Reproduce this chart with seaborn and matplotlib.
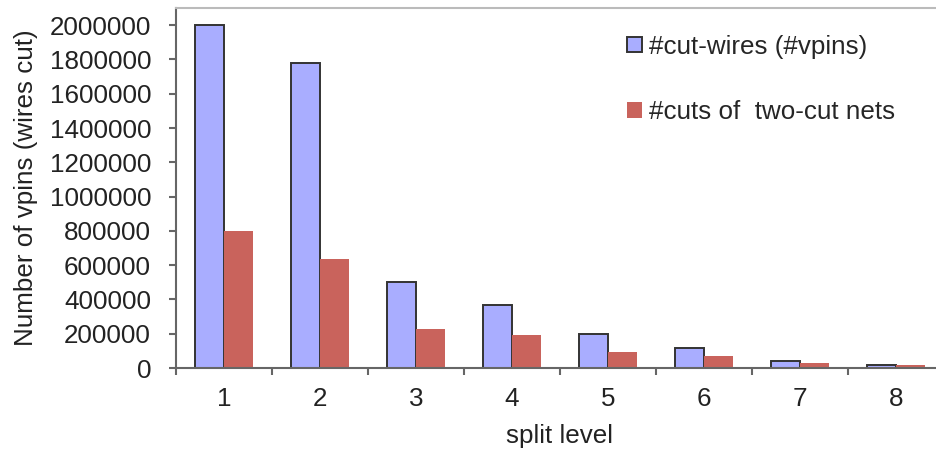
import matplotlib
matplotlib.use("Agg")
import matplotlib.pyplot as plt
from matplotlib.patches import Patch
from matplotlib.ticker import FixedLocator, FuncFormatter
import seaborn as sns
import pandas as pd

split_levels = ["1", "2", "3", "4", "5", "6", "7", "8"]
cut_wires = [2000000, 1780000, 500000, 365000, 200000, 115000, 38000, 20000]
two_cut = [800000, 635000, 225000, 190000, 95000, 70000, 27000, 15000]
series_names = ["#cut-wires (#vpins)", "#cuts of  two-cut nets"]
colors = ["#A9ADFF", "#C9635C"]

df = pd.DataFrame({
    "level": split_levels * 2,
    "value": cut_wires + two_cut,
    "series": [series_names[0]] * len(split_levels) + [series_names[1]] * len(split_levels),
})

sns.set_theme(style="white")
plt.rcParams["font.family"] = ["Liberation Sans", "DejaVu Sans"]
FS = 18.7

fig = plt.figure(figsize=(9.36, 4.54), dpi=100)
W, H = 936, 454
ax = fig.add_axes([176 / W, (H - 368) / H, 768 / W, 360 / H])

sns.barplot(data=df, x="level", y="value", hue="series", order=split_levels,
            hue_order=series_names, palette=colors, width=0.6, gap=0,
            saturation=1, legend=False, ax=ax)

n = len(split_levels)
for i, p in enumerate(ax.patches[:2 * n]):
    if i < n:
        p.set_edgecolor("#333333")
        p.set_linewidth(1.4)
    else:
        p.set_edgecolor("none")

ax.set_xlim(-0.5, n - 0.5)
ax.set_ylim(0, 2100000)
ax.set_yticks(range(0, 2000001, 200000))
ax.yaxis.set_major_formatter(FuncFormatter(lambda v, _: f"{int(v)}"))
ax.xaxis.set_minor_locator(FixedLocator([i - 0.5 for i in range(n + 1)]))
ax.tick_params(axis="x", which="major", length=0, pad=14, labelsize=FS, colors="#222222")
ax.tick_params(axis="x", which="minor", bottom=True, length=5, width=1.5, color="#666666", direction="out")
ax.tick_params(axis="y", which="major", left=True, length=5, width=1.5, color="#666666",
               direction="out", labelsize=FS, labelcolor="#222222", pad=13)

for s in ["left", "bottom"]:
    ax.spines[s].set_color("#666666")
    ax.spines[s].set_linewidth(1.5)
ax.spines["top"].set_color("#BBBBBB")
ax.spines["top"].set_linewidth(1.5)
ax.spines["right"].set_visible(False)

ax.set_xlabel("split level", fontsize=FS, color="#222222", labelpad=9)
ax.set_ylabel("Number of vpins (wires cut)", fontsize=FS, color="#222222", labelpad=8)

handles = [Patch(facecolor=colors[0], edgecolor="#333333", linewidth=1.4),
           Patch(facecolor=colors[1], edgecolor="none")]
ax.legend(handles, series_names, loc="upper left", bbox_to_anchor=(0.574, 0.955),
          frameon=False, fontsize=FS, handlelength=0.55, handleheight=0.55,
          handletextpad=0.3, labelspacing=1.6, borderaxespad=0)

fig.savefig("out.png", dpi=100)
